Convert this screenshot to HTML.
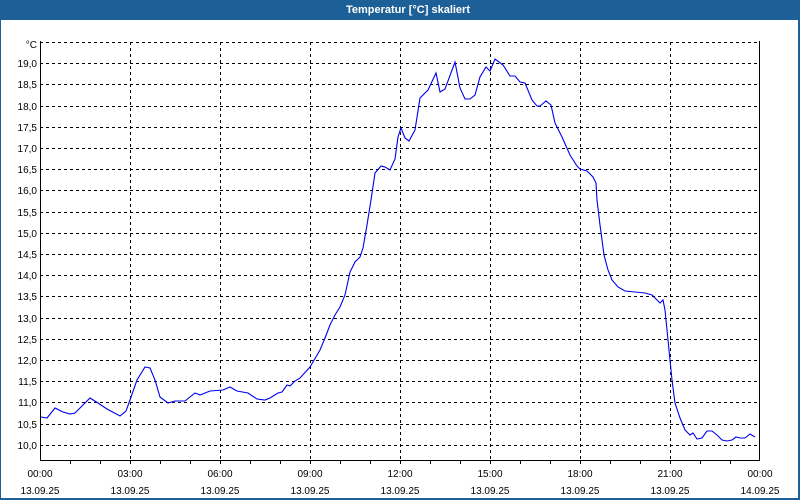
<!DOCTYPE html>
<html><head><meta charset="utf-8"><style>
html,body{margin:0;padding:0;width:800px;height:500px;overflow:hidden;background:#fff}
svg{display:block}
text{font-family:"Liberation Sans",sans-serif;font-size:10px;fill:#000}
</style></head><body>
<svg width="800" height="500" xmlns="http://www.w3.org/2000/svg">
<rect x="0" y="0" width="800" height="500" fill="#1d5f97"/>
<rect x="1" y="20" width="797" height="478" fill="#fff"/>
<text x="408" y="13" text-anchor="middle" style="font-weight:bold;font-size:11px;fill:#fff">Temperatur [°C] skaliert</text>
<g stroke="#000" stroke-width="1" stroke-dasharray="3,3" fill="none" shape-rendering="crispEdges">
<line x1="40" y1="42.5" x2="760" y2="42.5"/>
<line x1="40" y1="63.5" x2="760" y2="63.5"/>
<line x1="40" y1="84.5" x2="760" y2="84.5"/>
<line x1="40" y1="106.5" x2="760" y2="106.5"/>
<line x1="40" y1="127.5" x2="760" y2="127.5"/>
<line x1="40" y1="148.5" x2="760" y2="148.5"/>
<line x1="40" y1="169.5" x2="760" y2="169.5"/>
<line x1="40" y1="190.5" x2="760" y2="190.5"/>
<line x1="40" y1="212.5" x2="760" y2="212.5"/>
<line x1="40" y1="233.5" x2="760" y2="233.5"/>
<line x1="40" y1="254.5" x2="760" y2="254.5"/>
<line x1="40" y1="275.5" x2="760" y2="275.5"/>
<line x1="40" y1="296.5" x2="760" y2="296.5"/>
<line x1="40" y1="318.5" x2="760" y2="318.5"/>
<line x1="40" y1="339.5" x2="760" y2="339.5"/>
<line x1="40" y1="360.5" x2="760" y2="360.5"/>
<line x1="40" y1="381.5" x2="760" y2="381.5"/>
<line x1="40" y1="402.5" x2="760" y2="402.5"/>
<line x1="40" y1="424.5" x2="760" y2="424.5"/>
<line x1="40" y1="445.5" x2="760" y2="445.5"/>
<line x1="130.5" y1="42" x2="130.5" y2="460"/>
<line x1="220.5" y1="42" x2="220.5" y2="460"/>
<line x1="310.5" y1="42" x2="310.5" y2="460"/>
<line x1="400.5" y1="42" x2="400.5" y2="460"/>
<line x1="490.5" y1="42" x2="490.5" y2="460"/>
<line x1="580.5" y1="42" x2="580.5" y2="460"/>
<line x1="670.5" y1="42" x2="670.5" y2="460"/>
</g>
<g stroke="#000" stroke-width="1" shape-rendering="crispEdges">
<line x1="40.5" y1="41" x2="40.5" y2="461"/>
<line x1="759.5" y1="41" x2="759.5" y2="461"/>
<line x1="40" y1="460.5" x2="760" y2="460.5"/>
<path d="M70.5 460v4M100.5 460v4M130.5 460v4M160.5 460v4M190.5 460v4M220.5 460v4M250.5 460v4M280.5 460v4M310.5 460v4M340.5 460v4M370.5 460v4M400.5 460v4M430.5 460v4M460.5 460v4M490.5 460v4M520.5 460v4M550.5 460v4M580.5 460v4M610.5 460v4M640.5 460v4M670.5 460v4M700.5 460v4M730.5 460v4"/>
</g>
<g text-anchor="end">
<text x="37" y="48">°C</text>
<text x="37" y="67">19,0</text><text x="37" y="88">18,5</text><text x="37" y="110">18,0</text>
<text x="37" y="131">17,5</text><text x="37" y="152">17,0</text><text x="37" y="173">16,5</text>
<text x="37" y="194">16,0</text><text x="37" y="216">15,5</text><text x="37" y="237">15,0</text>
<text x="37" y="258">14,5</text><text x="37" y="279">14,0</text><text x="37" y="300">13,5</text>
<text x="37" y="322">13,0</text><text x="37" y="343">12,5</text><text x="37" y="364">12,0</text>
<text x="37" y="385">11,5</text><text x="37" y="406">11,0</text><text x="37" y="428">10,5</text>
<text x="37" y="449">10,0</text>
</g>
<g text-anchor="middle">
<text x="40" y="477">00:00</text><text x="40" y="494">13.09.25</text>
<text x="130" y="477">03:00</text><text x="130" y="494">13.09.25</text>
<text x="220" y="477">06:00</text><text x="220" y="494">13.09.25</text>
<text x="310" y="477">09:00</text><text x="310" y="494">13.09.25</text>
<text x="400" y="477">12:00</text><text x="400" y="494">13.09.25</text>
<text x="490" y="477">15:00</text><text x="490" y="494">13.09.25</text>
<text x="580" y="477">18:00</text><text x="580" y="494">13.09.25</text>
<text x="670" y="477">21:00</text><text x="670" y="494">13.09.25</text>
<text x="760" y="477">00:00</text><text x="760" y="494">14.09.25</text>
</g>
<polyline fill="none" stroke="#0000ee" stroke-width="1.1" points="41,417 47,418 55,408 63,412 70,414 75,413 90,398 98,403 107,409 120,416 126,411 130,400 137,380 145,367 150,368 155,380 160,397 168,403 175,401 185,401 195,393 200,395 210,391 223,390 230,387 237,391 248,393 257,399 265,400 270,398 278,393 282,392 287,385 290,386 295,381 300,378 310,367 320,350 325,338 330,325 335,315 340,307 345,295 350,272 355,262 360,257 363,248 367,225 371,200 375,173 381,166 385,167 390,170 395,159 398,137 401,128 405,138 409,141 415,130 420,98 428,90 436,73 440,92 445,89 455,62 460,88 465,99 470,99 475,95 480,77 486,67 490,71 495,59 503,65 510,76 515,76 520,82 525,83 532,100 537,106 540,106 546,101 551,105 555,123 562,137 570,155 577,166 580,169 587,171 593,177 596,183 597,200 600,225 604,255 608,270 612,280 618,287 625,291 635,292 645,293 652,295 657,300 660,303 663,300 665,310 668,340 672,380 675,403 680,418 685,430 690,435 693,433 697,439 702,438 707,431 712,431 717,435 722,440 727,441 732,440 736,437 740,438 745,438 750,434 755,437"/>
</svg>
</body></html>
